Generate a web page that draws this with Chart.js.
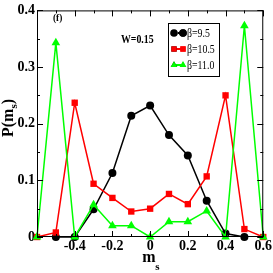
<!DOCTYPE html>
<html>
<head>
<meta charset="utf-8">
<script src="https://cdn.jsdelivr.net/npm/chart.js@4.4.0/dist/chart.umd.min.js"></script>
<style>
  html, body { margin: 0; padding: 0; background: #fff; }
  #wrap { width: 273px; height: 273px; }
</style>
</head>
<body>
<div id="wrap"><canvas id="c" width="273" height="273"></canvas></div>
<script>
// Data
const msValues = [-0.6, -0.5, -0.4, -0.3, -0.2, -0.1, 0, 0.1, 0.2, 0.3, 0.4, 0.5, 0.6];
const p95 = [null, 0.0, 0.0, 0.049, 0.113, 0.214, 0.232, 0.180, 0.144, 0.064, 0.006, 0.0, null];
const p105 = [0.0, 0.008, 0.237, 0.094, 0.069, 0.045, 0.050, 0.076, 0.058, 0.107, 0.250, 0.014, 0.0];
const p110 = [0.0, 0.343, 0.0, 0.057, 0.020, 0.020, 0.0, 0.027, 0.027, 0.046, 0.0, 0.373, 0.0];
const xTickLabels = ['-0.4', '-0.2', '0', '0.2', '0.4', '0.6'];
const yTickLabels = ['0', '0.1', '0.2', '0.3', '0.4'];
const seriesNames = ['β=9.5', 'β=10.5', 'β=11.0'];

const FONT = '"Liberation Serif", "Times New Roman", serif';

function toPoints(vals) {
    return msValues.map((x, i) => ({ x: x, y: vals[i] })).filter(p => p.y !== null);
}

// Frame, inward ticks, axis titles, annotations and legend
const decorPlugin = {
    id: 'decor',
    afterDraw(chart) {
        const ctx = chart.ctx;
        const a = chart.chartArea;
        const xs = chart.scales.x, ys = chart.scales.y;
        ctx.save();
        ctx.strokeStyle = '#000';
        ctx.lineWidth = 1;
        ctx.strokeRect(a.left + 0.5, a.top + 0.5, a.right - a.left - 1, a.bottom - a.top - 1);

        // x ticks (major every 0.2, minor every 0.1)
        for (let k = -6; k <= 6; k++) {
            const px = Math.round(xs.getPixelForValue(k / 10)) + 0.5;
            const len = (k % 2 === 0) ? 6 : 3;
            ctx.beginPath();
            ctx.moveTo(px, a.bottom); ctx.lineTo(px, a.bottom - len);
            ctx.moveTo(px, a.top); ctx.lineTo(px, a.top + len);
            ctx.stroke();
        }
        // y ticks (major every 0.1, minor every 0.05)
        for (let k = 0; k <= 8; k++) {
            const py = Math.round(ys.getPixelForValue(k * 0.05)) + 0.5;
            const len = (k % 2 === 0) ? 6 : 3;
            ctx.beginPath();
            ctx.moveTo(a.left, py); ctx.lineTo(a.left + len, py);
            ctx.moveTo(a.right, py); ctx.lineTo(a.right - len, py);
            ctx.stroke();
        }

        ctx.fillStyle = '#000';
        // x title m_s
        ctx.font = 'bold 16px ' + FONT;
        ctx.textAlign = 'left';
        ctx.textBaseline = 'alphabetic';
        const cx = (a.left + a.right) / 2;
        ctx.fillText('m', cx - 8, 262);
        ctx.font = 'bold 11px ' + FONT;
        ctx.fillText('s', cx + 5, 270);

        // y title P(m_s)
        ctx.save();
        ctx.translate(13, 118);
        ctx.rotate(-Math.PI / 2);
        ctx.font = 'bold 16px ' + FONT;
        ctx.textAlign = 'left';
        const w1 = ctx.measureText('P(m').width;
        ctx.font = 'bold 11px ' + FONT;
        const w2 = ctx.measureText('s').width;
        ctx.font = 'bold 16px ' + FONT;
        const w3 = ctx.measureText(')').width;
        let start = -(w1 + w2 + w3) / 2;
        ctx.fillText('P(m', start, 0);
        ctx.font = 'bold 11px ' + FONT;
        ctx.fillText('s', start + w1, 4);
        ctx.font = 'bold 16px ' + FONT;
        ctx.fillText(')', start + w1 + w2, 0);
        ctx.restore();

        // annotations (text is slightly condensed in the original)
        ctx.save();
        ctx.translate(53, 21);
        ctx.scale(0.85, 1);
        ctx.font = 'bold 11px ' + FONT;
        ctx.fillText('(f)', 0, 0);
        ctx.restore();
        ctx.save();
        ctx.translate(121, 43);
        ctx.scale(0.82, 1);
        ctx.font = 'bold 12px ' + FONT;
        ctx.fillText('W=0.15', 0, 0);
        ctx.restore();

        // legend
        const lx = 168, ly = 23, lw = 51, lh = 53;
        ctx.fillStyle = '#fff';
        ctx.fillRect(lx, ly, lw, lh);
        ctx.strokeStyle = '#000';
        ctx.strokeRect(lx + 0.5, ly + 0.5, lw, lh);
        const colors = ['#000000', '#ff0000', '#00ff00'];
        const styles = ['circle', 'rect', 'triangle'];
        ctx.textBaseline = 'middle';
        for (let i = 0; i < seriesNames.length; i++) {
            const yy = ly + 10 + i * 16;
            ctx.strokeStyle = colors[i];
            ctx.lineWidth = 2;
            ctx.beginPath();
            ctx.moveTo(lx + 6, yy); ctx.lineTo(lx + 15, yy);
            ctx.stroke();
            [lx + 6, lx + 15].forEach(mx => {
                Chart.helpers.drawPoint(ctx, {
                    pointStyle: styles[i], radius: 3.8, borderWidth: 0, rotation: 0
                }, mx, yy);
                ctx.fillStyle = colors[i];
                ctx.fill();
            });
            ctx.fillStyle = '#000';
            ctx.save();
            ctx.translate(lx + 19, yy + 1);
            ctx.scale(0.82, 1);
            ctx.font = '12px ' + FONT;
            ctx.fillText(seriesNames[i], 0, 0);
            ctx.restore();
        }
        ctx.restore();
    }
};

function makeSet(label, vals, color, style, radius, order) {
    return {
        label: label,
        data: toPoints(vals),
        borderColor: color,
        backgroundColor: color,
        borderWidth: 1.5,
        pointStyle: style,
        pointRadius: radius,
        pointBorderWidth: 0,
        pointBackgroundColor: color,
        tension: 0,
        order: order
    };
}

new Chart(document.getElementById('c'), {
    type: 'line',
    data: {
        datasets: [
            makeSet(seriesNames[0], p95, '#000000', 'circle', 4, 3),
            makeSet(seriesNames[1], p105, '#ff0000', 'rect', 4.5, 2),
            makeSet(seriesNames[2], p110, '#00ff00', 'triangle', 5, 1)
        ]
    },
    options: {
        responsive: false,
        animation: false,
        clip: false,
        layout: { padding: { top: 7, right: 9, left: 0, bottom: 0 } },
        plugins: { legend: { display: false }, tooltip: { enabled: false } },
        scales: {
            x: {
                type: 'linear',
                min: -0.6, max: 0.6,
                afterFit: s => { s.height = 36; },
                afterBuildTicks: s => { s.ticks = xTickLabels.map(v => ({ value: parseFloat(v) })); },
                ticks: {
                    color: '#000',
                    padding: 1,
                    maxRotation: 0,
                    font: { family: FONT, size: 14, weight: 'bold' },
                    callback: (v) => xTickLabels.find(t => Math.abs(parseFloat(t) - v) < 1e-6)
                },
                grid: { display: false, drawTicks: false, tickLength: 0 },
                border: { display: false }
            },
            y: {
                min: 0, max: 0.4,
                afterFit: s => { s.width = 37; },
                afterBuildTicks: s => { s.ticks = yTickLabels.map(v => ({ value: parseFloat(v) })); },
                ticks: {
                    color: '#000',
                    padding: 2,
                    font: { family: FONT, size: 14, weight: 'bold' },
                    callback: (v) => yTickLabels.find(t => Math.abs(parseFloat(t) - v) < 1e-6)
                },
                grid: { display: false, drawTicks: false, tickLength: 0 },
                border: { display: false }
            }
        }
    },
    plugins: [decorPlugin]
});
</script>
</body>
</html>
